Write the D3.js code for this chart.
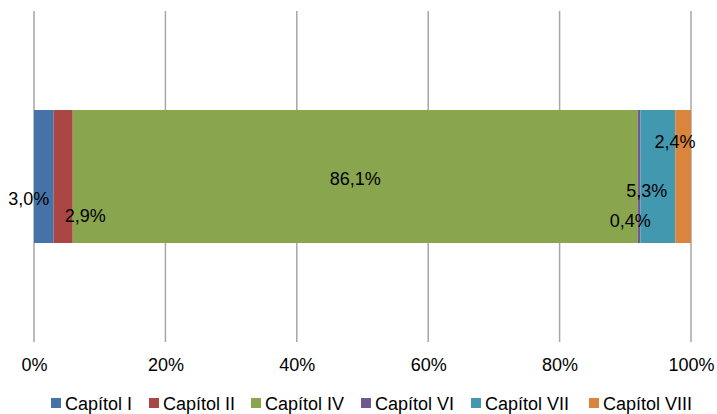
<!DOCTYPE html>
<html><head><meta charset="utf-8">
<script src="https://cdn.jsdelivr.net/npm/d3@7/dist/d3.min.js"></script>
<style>body{margin:0;background:#fff}svg{display:block;font-family:"Liberation Sans",Arial,sans-serif}</style>
</head><body><svg id="c" width="717" height="414"></svg>
<script>
const series = ["Capítol I","Capítol II","Capítol IV","Capítol VI","Capítol VII","Capítol VIII"];
const values = [3.0, 2.9, 86.1, 0.4, 5.3, 2.4];
const labels = ["3,0%","2,9%","86,1%","0,4%","5,3%","2,4%"];
const colors = ["#4572A7","#AA4643","#89A54E","#71588F","#4198AF","#DB843D"];
const ticks = [0,0.2,0.4,0.6,0.8,1];
// label offsets from segment centre (layout)
const labelDx = [-15, 22, 0, -9, -11, -8];
const labelDy = [22, 39, 2, 44, 14, -35];
const legendX = [51,149,251,361,471,589];

const svg = d3.select("#c");
const x = d3.scaleLinear().domain([0,1]).range([34,691]);
const total = d3.sum(values);
let cum = 0;
const segs = values.map((v,i)=>{const s={i,x0:cum/total,x1:(cum+v)/total};cum+=v;return s;});

const axis = d3.axisBottom(x).tickValues(ticks).tickFormat(d3.format(".0%")).tickSize(0).tickPadding(0);
const g = svg.append("g");
g.selectAll("line.grid").data(ticks).join("line")
 .attr("x1",d=>x(d)).attr("x2",d=>x(d)).attr("y1",11).attr("y2",342)
 .attr("stroke","#a6a6a6").attr("stroke-width",1.5);

svg.selectAll("rect.bar").data(segs).join("rect")
 .attr("x",d=>x(d.x0)).attr("width",d=>x(d.x1)-x(d.x0))
 .attr("y",110).attr("height",133).attr("fill",d=>colors[d.i]);

const ax = svg.append("g").attr("transform","translate(0,371)").call(axis);
ax.select(".domain").remove();
ax.selectAll("text").attr("font-size",18).attr("fill","#000").attr("dy",0).attr("font-family","Liberation Sans, Arial, sans-serif");

svg.selectAll("text.lab").data(segs).join("text")
 .attr("x",d=>(x(d.x0)+x(d.x1))/2+labelDx[d.i])
 .attr("y",d=>178.5+labelDy[d.i])
 .attr("text-anchor","middle").attr("dominant-baseline","middle")
 .attr("font-size",18).attr("fill","#000").text(d=>labels[d.i]);

const lg = svg.selectAll("g.lg").data(series).join("g").attr("transform",(d,i)=>`translate(${legendX[i]},0)`);
lg.append("rect").attr("x",0).attr("y",398).attr("width",10).attr("height",10).attr("fill",(d,i)=>colors[i]);
lg.append("text").attr("x",14).attr("y",410).attr("font-size",18).attr("fill","#000").text(d=>d);
</script></body></html>
